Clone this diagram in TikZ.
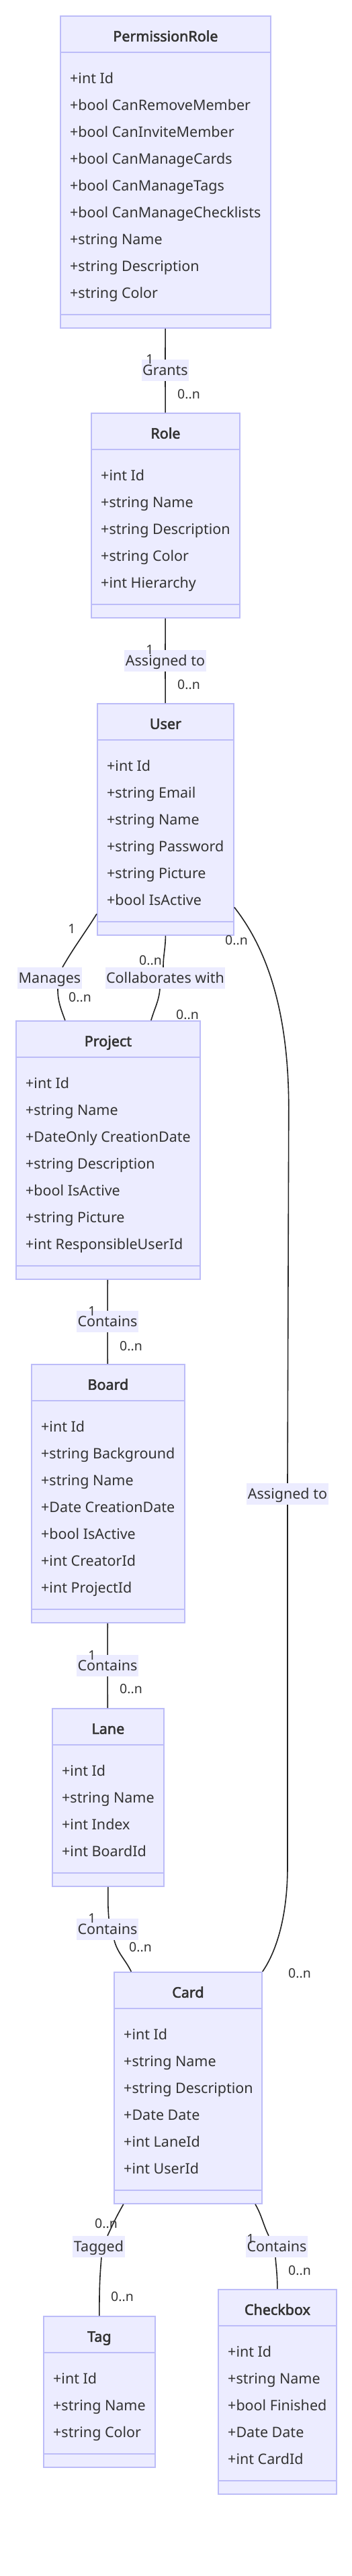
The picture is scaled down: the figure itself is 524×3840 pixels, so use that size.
\documentclass[tikz,border=0pt]{standalone}
\usepackage{fontspec}
\setmainfont{Noto Sans}[BoldFont={Noto Sans},BoldFeatures={FakeBold=2.5}]
\definecolor{ClassFill}{HTML}{ECECFF}
\definecolor{ClassLine}{HTML}{BCBCF8}
\definecolor{TextClr}{HTML}{333333}
\definecolor{EdgeClr}{HTML}{222222}

\begin{document}
\begin{tikzpicture}[x=1pt,y=-1pt,
  cls/.style={draw=ClassLine,fill=ClassFill,line width=1.8pt,inner sep=0pt,anchor=north west},
  sep/.style={draw=ClassLine,line width=1.8pt},
  ctitle/.style={font=\fontsize{21.5}{26}\selectfont\bfseries,text=TextClr,inner sep=0pt,text height=15.4pt,text depth=0pt},
  attr/.style={font=\fontsize{21.5}{26}\selectfont,text=TextClr,anchor=west,inner sep=0pt,text height=15.4pt,text depth=0pt},
  rel/.style={draw=EdgeClr,line width=1.6pt},
  elabel/.style={font=\fontsize{21.5}{26}\selectfont,text=TextClr,fill=ClassFill,inner xsep=1.5pt,inner ysep=0pt,text height=23.7pt,text depth=8.3pt},
  mult/.style={font=\fontsize{19.5}{24}\selectfont,text=TextClr,inner sep=0pt,text height=13.9pt,text depth=0pt}]

\fill[white] (0,0) rectangle (524,3840);
\useasboundingbox (0,0) rectangle (524,3840);

% classes
\node[cls,minimum width=313,minimum height=465] (perm) at (89,23) {};
\node[cls,minimum width=221,minimum height=305] (role) at (135,615) {};
\node[cls,minimum width=203,minimum height=345] (user) at (144,1048) {};
\node[cls,minimum width=274,minimum height=385] (proj) at (23,1521) {};
\node[cls,minimum width=228,minimum height=385] (board) at (46,2033) {};
\node[cls,minimum width=166,minimum height=265] (lane) at (77,2546) {};
\node[cls,minimum width=220,minimum height=345] (card) at (169,2939) {};
\node[cls,minimum width=166,minimum height=225] (tag) at (64,3452) {};
\node[cls,minimum width=176,minimum height=305] (chk) at (324,3412) {};

\foreach \c/\t in {perm/PermissionRole,role/Role,user/User,proj/Project,board/Board,lane/Lane,card/Card,tag/Tag,chk/Checkbox}{
  \node[ctitle] (\c-t) at ([yshift=-31pt]\c.north) {\t};
  \draw[sep] ([yshift=-55pt]\c.north west) -- ([yshift=-55pt]\c.north east);
  \draw[sep] ([yshift=21pt]\c.south west) -- ([yshift=21pt]\c.south east);
}

\foreach \a [count=\i] in {+int Id,+bool CanRemoveMember,+bool CanInviteMember,+bool CanManageCards,+bool CanManageTags,+bool CanManageChecklists,+string Name,+string Description,+string Color}
  \node[attr] (perm-\i) at ([xshift=15pt,yshift=-54pt-40pt*\i]perm.north west) {\a};
\foreach \a [count=\i] in {+int Id,+string Name,+string Description,+string Color,+int Hierarchy}
  \node[attr] (role-\i) at ([xshift=15pt,yshift=-54pt-40pt*\i]role.north west) {\a};
\foreach \a [count=\i] in {+int Id,+string Email,+string Name,+string Password,+string Picture,+bool IsActive}
  \node[attr] (user-\i) at ([xshift=15pt,yshift=-54pt-40pt*\i]user.north west) {\a};
\foreach \a [count=\i] in {+int Id,+string Name,+DateOnly CreationDate,+string Description,+bool IsActive,+string Picture,+int ResponsibleUserId}
  \node[attr] (proj-\i) at ([xshift=15pt,yshift=-54pt-40pt*\i]proj.north west) {\a};
\foreach \a [count=\i] in {+int Id,+string Background,+string Name,+Date CreationDate,+bool IsActive,+int CreatorId,+int ProjectId}
  \node[attr] (board-\i) at ([xshift=15pt,yshift=-54pt-40pt*\i]board.north west) {\a};
\foreach \a [count=\i] in {+int Id,+string Name,+int Index,+int BoardId}
  \node[attr] (lane-\i) at ([xshift=15pt,yshift=-54pt-40pt*\i]lane.north west) {\a};
\foreach \a [count=\i] in {+int Id,+string Name,+string Description,+Date Date,+int LaneId,+int UserId}
  \node[attr] (card-\i) at ([xshift=15pt,yshift=-54pt-40pt*\i]card.north west) {\a};
\foreach \a [count=\i] in {+int Id,+string Name,+string Color}
  \node[attr] (tag-\i) at ([xshift=15pt,yshift=-54pt-40pt*\i]tag.north west) {\a};
\foreach \a [count=\i] in {+int Id,+string Name,+bool Finished,+Date Date,+int CardId}
  \node[attr] (chk-\i) at ([xshift=15pt,yshift=-54pt-40pt*\i]chk.north west) {\a};

% relation labels
\node[elabel] (grants) at (246,552) {Grants};
\node[elabel] (asgrole) at (246,985) {Assigned to};
\node[elabel] (mng) at (74,1458) {Manages};
\node[elabel] (collab) at (246,1458) {Collaborates with};
\node[elabel] (asgcard) at (428,2227) {Assigned to};
\node[elabel] (cpb) at (160,1970) {Contains};
\node[elabel] (cbl) at (160,2483) {Contains};
\node[elabel] (clc) at (160,2876) {Contains};
\node[elabel] (tagged) at (147,3349) {Tagged};
\node[elabel] (ccc) at (412,3349) {Contains};

% relations
\draw[rel] (perm) -- (grants) -- (role);
\draw[rel] (role) -- (asgrole) -- (user);
\draw[rel] (user.-126) to[out=-122,in=60] ([xshift=19pt]mng.north);
\draw[rel] ([xshift=12pt]mng.south) to[out=-90,in=110] ([xshift=-64pt]proj.north);
\draw[rel] (user.south) to[out=-90,in=90] ([xshift=-3pt]collab.north);
\draw[rel] ([xshift=-8pt]collab.south) to[out=-95,in=74] ([xshift=64pt]proj.north);
\draw[rel] (user.-52) .. controls +(55,70) and +(0,-130) .. ++(81,300) -- (asgcard.north);
\draw[rel] (asgcard.south) -- ++(0,540) .. controls +(0,70) and +(22,-32) .. (card.north east);
\draw[rel] (proj) -- (cpb) -- (board);
\draw[rel] (board) -- (cbl) -- (lane);
\draw[rel] (lane.south) to[out=-90,in=95] ([xshift=2pt]clc.north);
\draw[rel] ([xshift=10pt]clc.south) to[out=-75,in=116] (card.116.7);
\draw[rel] (card.-119.3) to[out=-120,in=65] ([xshift=13pt]tagged.north);
\draw[rel] ([xshift=4pt]tagged.south) to[out=-95,in=90] (tag.north);
\draw[rel] (card.-60.5) to[out=-60,in=116] ([xshift=-12pt]ccc.north);
\draw[rel] ([xshift=-2pt]ccc.south) to[out=-85,in=90] (chk.north);

% multiplicities
\node[mult] (grants-a) at (223,536) {1};
\node[mult] (grants-b) at (281,588) {0..n};
\node[mult] (asgrole-a) at (223,969) {1};
\node[mult] (asgrole-b) at (281,1021) {0..n};
\node[mult] (mng-a) at (107,1385) {1};
\node[mult] (mng-b) at (119,1487) {0..n};
\node[mult] (collab-a) at (224,1432) {0..n};
\node[mult] (collab-b) at (279,1513) {0..n};
\node[mult] (asgcard-a) at (352,1402) {0..n};
\node[mult] (asgcard-b) at (446,2942) {0..n};
\node[mult] (cpb-a) at (137,1955) {1};
\node[mult] (cpb-b) at (195,2007) {0..n};
\node[mult] (cbl-a) at (137,2468) {1};
\node[mult] (cbl-b) at (195,2518) {0..n};
\node[mult] (clc-a) at (137,2860) {1};
\node[mult] (clc-b) at (209,2903) {0..n};
\node[mult] (tagged-a) at (158,3315) {0..n};
\node[mult] (tagged-b) at (182,3424) {0..n};
\node[mult] (ccc-a) at (373,3338) {1};
\node[mult] (ccc-b) at (446,3385) {0..n};

\end{tikzpicture}
\end{document}
